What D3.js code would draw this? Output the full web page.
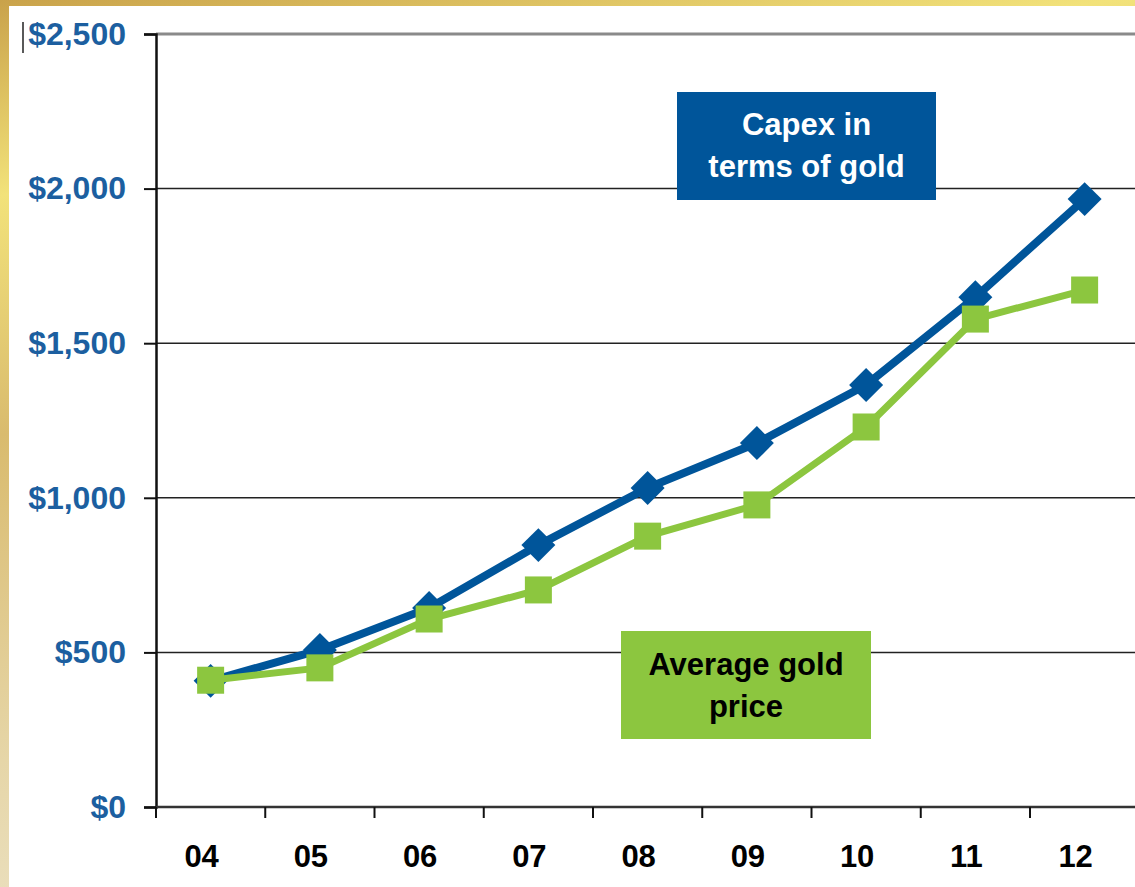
<!DOCTYPE html>
<html>
<head>
<meta charset="utf-8">
<script src="https://cdn.jsdelivr.net/npm/d3@7"></script>
<style>
  html, body { margin: 0; padding: 0; }
  body {
    width: 1135px; height: 887px; overflow: hidden;
    background: linear-gradient(170deg, #c9a24a 0%, #f2e27a 18%, #d9bb6e 40%, #e6d6a8 70%, #efe9d6 100%);
  }
  svg { display: block; }
</style>
</head>
<body>
<div id="chart"></div>
<script>
// chart data
const years = ["04", "05", "06", "07", "08", "09", "10", "11", "12"];
const capexGold = [408, 508, 644, 847, 1032, 1177, 1365, 1649, 1966];
const avgGoldPrice = [410, 450, 608, 702, 876, 977, 1229, 1578, 1672];
const yTicks = [0, 500, 1000, 1500, 2000, 2500];
const capexLabel = ["Capex in", "terms of gold"];
const goldLabel = ["Average gold", "price"];

const W = 1135, H = 887;
const blue = "#00559a", green = "#8cc63f", labelBlue = "#1c5fa0";
const font = "'Liberation Sans', Arial, sans-serif";

const svg = d3.select("#chart").append("svg")
    .attr("width", W)
    .attr("height", H);

// white slide panel over the gold background
svg.append("rect")
    .attr("x", 9).attr("y", 6)
    .attr("width", W - 9).attr("height", H - 6)
    .attr("fill", "#fff");

const plotLeft = 156, plotTop = 34, plotBottom = 807;

const x = d3.scaleBand()
    .domain(years)
    .range([plotLeft, plotLeft + 9 * 109.25])
    .paddingInner(0);

const y = d3.scaleLinear()
    .domain([0, 2500])
    .range([plotBottom, plotTop]);

const cx = d => x(d) + x.bandwidth() / 2;

// gridlines
svg.append("g")
    .selectAll("line")
    .data(yTicks.filter(v => v > 0))
    .enter().append("line")
    .attr("x1", plotLeft).attr("x2", W)
    .attr("y1", d => y(d)).attr("y2", d => y(d))
    .attr("stroke", d => d === 2500 ? "#8a8a8a" : "#222")
    .attr("stroke-width", d => d === 2500 ? 3 : 1.5);

// y axis
const yAxis = svg.append("g")
    .attr("transform", `translate(${plotLeft},0)`)
    .call(d3.axisLeft(y).tickValues(yTicks).tickSize(12).tickPadding(18)
        .tickFormat(d => "$" + d3.format(",")(d)));
yAxis.select(".domain").attr("stroke", "#111").attr("stroke-width", 2.5);
yAxis.selectAll(".tick line").attr("stroke", "#111").attr("stroke-width", 2);
yAxis.selectAll(".tick text")
    .attr("fill", labelBlue)
    .style("font-family", font)
    .style("font-weight", "bold")
    .style("font-size", "32px");

// stray cursor mark left of the top label
svg.append("line")
    .attr("x1", 23).attr("x2", 23)
    .attr("y1", 22).attr("y2", 53)
    .attr("stroke", "#222").attr("stroke-width", 1.5);

// x axis
svg.append("line")
    .attr("x1", plotLeft).attr("x2", W)
    .attr("y1", plotBottom).attr("y2", plotBottom)
    .attr("stroke", "#333").attr("stroke-width", 2.5);

svg.append("g")
    .selectAll("line")
    .data(years)
    .enter().append("line")
    .attr("x1", d => x(d)).attr("x2", d => x(d))
    .attr("y1", plotBottom).attr("y2", plotBottom + 11)
    .attr("stroke", "#111").attr("stroke-width", 2);

svg.append("g")
    .selectAll("text")
    .data(years)
    .enter().append("text")
    .attr("x", d => cx(d) - 9)
    .attr("y", 867)
    .attr("text-anchor", "middle")
    .style("font-family", font)
    .style("font-weight", "bold")
    .style("font-size", "31px")
    .attr("fill", "#000")
    .text(d => d);

// lines
const line = d3.line()
    .x((d, i) => cx(years[i]))
    .y(d => y(d));

svg.append("path")
    .datum(capexGold)
    .attr("d", line)
    .attr("fill", "none")
    .attr("stroke", blue)
    .attr("stroke-width", 8);

svg.append("g")
    .selectAll("path")
    .data(capexGold)
    .enter().append("path")
    .attr("d", d3.symbol().type(d3.symbolSquare).size(24 * 24))
    .attr("transform", (d, i) => `translate(${cx(years[i])},${y(d)}) rotate(45)`)
    .attr("fill", blue);

svg.append("path")
    .datum(avgGoldPrice)
    .attr("d", line)
    .attr("fill", "none")
    .attr("stroke", green)
    .attr("stroke-width", 7);

svg.append("g")
    .selectAll("rect")
    .data(avgGoldPrice)
    .enter().append("rect")
    .attr("x", (d, i) => cx(years[i]) - 13.5)
    .attr("y", d => y(d) - 13.5)
    .attr("width", 27).attr("height", 27)
    .attr("fill", green);

// label boxes
const addBox = (bx, by, bw, bh, fill, color, lines, baselines) => {
    svg.append("rect")
        .attr("x", bx).attr("y", by)
        .attr("width", bw).attr("height", bh)
        .attr("fill", fill);
    svg.append("text")
        .attr("text-anchor", "middle")
        .style("font-family", font)
        .style("font-weight", "bold")
        .style("font-size", "31px")
        .attr("fill", color)
        .selectAll("tspan")
        .data(lines)
        .enter().append("tspan")
        .attr("x", bx + bw / 2)
        .attr("y", (d, i) => baselines[i])
        .text(d => d);
};

addBox(677, 92, 259, 108, blue, "#fff", capexLabel, [135, 177]);
addBox(621, 631, 250, 108, green, "#000", goldLabel, [675, 717]);
</script>
</body>
</html>
